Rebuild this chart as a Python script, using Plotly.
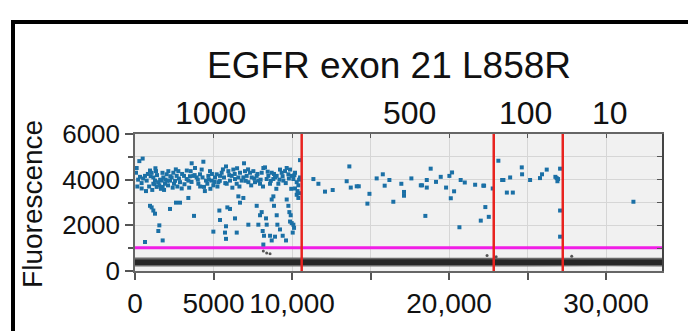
import plotly.graph_objects as go

# ---------------- data ----------------
title_text = "EGFR exon 21 L858R"
group_labels = ["1000", "500", "100", "10"]
group_centers = [4777, 17450, 24840, 30250]
well_boundaries = [10615, 22845, 27240]
threshold = 1020

x_tickvals = [0, 5000, 10000, 15000, 20000, 25000, 30000]
x_ticktext = ["0", "5000", "10,000", "", "20,000", "", "30,000"]
y_tickvals = [0, 2000, 4000, 6000]
y_ticktext = ["0", "2000", "4000", "6000"]

# positive droplets (blue)
pos_x = [
    64, 106, 276, 488, 319, 637, 743, 956, 1062, 1168, 1274, 1338, 1168, 1380, 1486, 1550, 1699, 1805, 1762, 1911,
    2017, 2123, 2230, 2336, 2442, 2484, 2654, 2760, 2866, 2973, 3121, 3291, 3397, 3546, 3609, 3716, 3822, 3928, 4034, 4140,
    4246, 4353, 4395, 4522, 4607, 4671, 4777, 4883, 4989, 5096, 5202, 5308, 5414, 5520, 5669, 5796, 5839, 5945, 6051, 6157,
    6263, 6369, 6476, 6582, 6688, 6794, 6943, 7006, 7112, 7219, 7325, 7431, 7537, 7643, 7749, 7855, 7962, 8068, 8174, 8280,
    8386, 8492, 8599, 8705, 8811, 8917, 9023, 9129, 9235, 9341, 9448, 9554, 9660, 9766, 9872, 9978, 10085, 10191, 10297, 10403,
    10509, 10509,
    150, 420, 520, 820, 900, 1100, 1250, 1400, 1600, 1650, 1850, 1950, 2100, 2250, 2400, 2550, 2600, 2700, 3000, 3150,
    3300, 3450, 3600, 3800, 4000, 4150, 4300, 4450, 4700, 4800, 4900, 5050, 5250, 5400, 5600, 5750, 6000, 6200, 6350, 6500,
    6650, 6900, 7050, 7200, 7400, 7600, 7800, 8000, 8150, 8450, 8650, 8850, 9000, 9200, 9400, 9600, 9800, 9950, 10150, 10350,
    10450, 200, 700, 1000, 1300, 1750, 2050, 2800, 3500,
    424, 955, 1061, 1168, 1274, 1550, 1486, 637, 1762, 2229, 2611, 2866, 3397, 3758, 4990, 5372, 5414, 5796, 5732, 5796,
    5881, 6051, 6369, 6478, 6582, 6688, 6900, 7218, 7750, 7856, 7962, 8068, 8131, 8216, 8344, 8387, 8705, 8811, 8853, 8600,
    8705, 8917, 9024, 9066, 9235, 9406, 9618, 9661, 9767, 9831, 9916, 9873, 9980, 10086, 10128, 10043, 10191, 10297, 10403, 10467,
    8173,
    11360, 11680, 12100, 12590, 13480, 13650, 13740, 14120, 14250, 14800, 14930, 15390, 15780, 15900, 16200, 16450, 16960, 17130, 17130, 17600,
    18200, 18280, 18490, 18580, 18580, 18830, 19170, 19470, 19810, 20020, 20110, 20190, 20320, 20660, 20740, 21000, 21660, 22020, 22180, 22230,
    22310, 22530, 22780,
    23140, 23380, 23460, 23680, 24060, 23890, 24630, 24650, 25160, 25790, 25920, 26220, 26770, 26850, 26900, 26940, 27070, 27070, 27070,
    31740,
]
pos_y = [
    4304, 4510, 4813, 4924, 4124, 4166, 3959, 4400, 4304, 4097, 3959, 4373, 3821, 3683, 3890, 3752, 3959, 4097, 3683, 3821,
    4235, 4373, 3959, 4097, 4304, 3821, 4166, 4373, 3890, 3614, 4166, 4028, 3959, 4373, 4717, 4166, 4510, 4097, 3821, 4235,
    4442, 4786, 3683, 3959, 3821, 4166, 4373, 3959, 3752, 4097, 4235, 3890, 4166, 4304, 4097, 4579, 3821, 4373, 3959, 4166,
    4442, 4028, 3821, 4097, 4304, 3959, 4717, 4373, 4166, 3890, 4304, 4097, 4373, 3890, 4166, 3959, 3821, 4304, 4510, 4538,
    4028, 4166, 3821, 4304, 4028, 4097, 4166, 3821, 4442, 4304, 3959, 4373, 4510, 4235, 4442, 4166, 4028, 4304, 3890, 3752,
    4855, 4097,
    3700, 3850, 4050, 4250, 3700, 3550, 3800, 4200, 4000, 3600, 3550, 4000, 3750, 4150, 3650, 3950, 4450, 3700, 4250, 3800,
    4400, 3650, 3900, 4200, 4000, 3700, 4100, 3500, 4000, 3600, 4250, 3900, 3700, 3950, 4450, 3850, 4200, 3650, 4250, 4500,
    3700, 4100, 3950, 4450, 3750, 4050, 4250, 4000, 3700, 4350, 3950, 4250, 3600, 4000, 4150, 3850, 4050, 3600, 4200, 3500,
    4000, 4000, 3500, 4150, 4500, 4300, 3950, 4050, 4150,
    3614, 2855, 2786, 2648, 2510, 1999, 1751, 1270, 1339, 2717, 2993, 2993, 3199, 2414, 1724, 2648, 2235, 1958, 1682, 1407,
    2786, 2717, 2304, 1682, 3269, 2993, 3199, 2028, 2855, 2028, 2441, 2579, 1751, 1544, 2304, 2028, 3131, 3269, 2855, 1544,
    1338, 1503, 2441, 2028, 1820, 1544, 1338, 3131, 2855, 2579, 2441, 2166, 2097, 2028, 1889, 1682, 3614, 3338, 3199, 3407,
    1159,
    4027, 3820, 3476, 3546, 3931, 4580, 3654, 3710, 3710, 2950, 3380, 4055, 4235, 3737, 3985, 3033, 3820, 3462, 3297, 4055,
    3752, 3752, 2413, 3985, 3654, 4482, 3903, 4124, 3654, 4165, 3186, 4316, 3490, 1916, 3985, 3876, 3778, 2206, 3737, 3737,
    2800, 2372, 3614,
    4829, 3985, 3985, 3435, 3435, 4097, 4538, 4235, 3985, 4069, 4235, 4441, 4124, 4069, 3931, 4027, 4482, 2648, 1503,
    3033,
]

# scattered droplets between the negative band and the threshold (gray)
mid_x = [8173, 8386, 8600, 22420, 23000, 27810]
mid_y = [880, 786, 760, 680, 620, 650]

# negative droplet band envelope
band_x = [0, 5000, 10000, 15000, 20000, 25000, 30000, 33560]
band_outer_lo = [200, 195, 205, 200, 195, 200, 205, 200]
band_outer_hi = [590, 600, 590, 585, 595, 590, 585, 585]
band_core_lo = [260, 255, 260, 265, 260, 255, 260, 260]
band_core_hi = [500, 510, 505, 500, 510, 505, 500, 500]

x_max = 33560
y_max = 6000

# ---------------- figure ----------------
W, H = 688, 331
L, R, T, B = 135, 26, 134, 52
pw, ph = W - L - R, H - T - B

def px_to_paper_x(px):
    return (px - L) / pw

def px_to_paper_y(py):
    return (H - B - py) / ph

FONT = "Liberation Sans, Arial, Helvetica, sans-serif"

fig = go.Figure()

# negative droplet band
fig.add_trace(go.Scatter(x=band_x, y=band_outer_lo, mode="lines", line=dict(width=0, color="#555"),
                         showlegend=False, hoverinfo="skip"))
fig.add_trace(go.Scatter(x=band_x, y=band_outer_hi, mode="lines", line=dict(width=0, color="#555"),
                         fill="tonexty", fillcolor="#6a6a6a", showlegend=False, hoverinfo="skip"))
fig.add_trace(go.Scatter(x=band_x, y=band_core_lo, mode="lines", line=dict(width=0, color="#222"),
                         showlegend=False, hoverinfo="skip"))
fig.add_trace(go.Scatter(x=band_x, y=band_core_hi, mode="lines", line=dict(width=0, color="#222"),
                         fill="tonexty", fillcolor="#262626", showlegend=False, hoverinfo="skip"))

fig.add_trace(go.Scatter(x=mid_x, y=mid_y, mode="markers",
                         marker=dict(size=3, color="#555555"), showlegend=False))

# threshold
fig.add_trace(go.Scatter(x=[0, x_max], y=[threshold, threshold], mode="lines",
                         line=dict(color="#f01ee6", width=3), showlegend=False))

# positive droplets
fig.add_trace(go.Scatter(x=pos_x, y=pos_y, mode="markers",
                         marker=dict(size=4, color="#1b70a6", symbol="square"), showlegend=False))

# well boundaries
for xb in well_boundaries:
    fig.add_trace(go.Scatter(x=[xb, xb], y=[0, y_max], mode="lines",
                             line=dict(color="#e8231f", width=2.5), showlegend=False))

# invisible trace for mirrored axes
fig.add_trace(go.Scatter(x=[0], y=[0], xaxis="x2", yaxis="y2", mode="markers",
                         marker=dict(opacity=0), showlegend=False, hoverinfo="skip"))

fig.update_layout(
    width=W, height=H,
    margin=dict(l=L, r=R, t=T, b=B),
    paper_bgcolor="white",
    plot_bgcolor="#f1f1f1",
    font=dict(family=FONT, color="#111"),
    xaxis=dict(range=[0, x_max], tickvals=x_tickvals, ticktext=x_ticktext,
               ticks="outside", ticklen=7, tickcolor="#555", tickwidth=1.5,
               showgrid=True, gridcolor="#d6d6d6", gridwidth=1,
               showline=True, linecolor="#666", linewidth=1.5, zeroline=False,
               tickfont=dict(size=28, family=FONT, color="#111")),
    yaxis=dict(range=[0, y_max], tickvals=y_tickvals, ticktext=y_ticktext,
               ticks="outside", ticklen=8, tickcolor="#555", tickwidth=1.5,
               showgrid=True, gridcolor="#d6d6d6", gridwidth=1,
               minor=dict(dtick=1000, ticks="outside", ticklen=5, tickcolor="#555",
                          showgrid=True, gridcolor="#d6d6d6", gridwidth=1),
               showline=True, linecolor="#666", linewidth=1.5, zeroline=False,
               tickfont=dict(size=26, family=FONT, color="#111")),
    xaxis2=dict(overlaying="x", side="top", matches="x", range=[0, x_max],
                tickvals=x_tickvals, ticks="inside", ticklen=4, tickcolor="#555",
                showticklabels=False, showgrid=False, showline=True, linecolor="#666",
                linewidth=1.5, zeroline=False),
    yaxis2=dict(overlaying="y", side="right", matches="y", range=[0, y_max],
                dtick=1000, ticks="inside", ticklen=5, tickcolor="#555",
                showticklabels=False, showgrid=False, showline=True, linecolor="#444",
                linewidth=2, zeroline=False),
)

annotations = []
# title
annotations.append(dict(text=title_text, xref="paper", yref="paper",
                        x=px_to_paper_x(389), y=px_to_paper_y(61), xanchor="center", yanchor="middle",
                        showarrow=False, font=dict(size=37, family=FONT, color="#111")))
# group labels
for lab, cx in zip(group_labels, group_centers):
    annotations.append(dict(text=lab, x=cx, xref="x", yref="paper", y=px_to_paper_y(112),
                            xanchor="center", yanchor="middle", showarrow=False,
                            font=dict(size=32, family=FONT, color="#111")))
# y-axis title
annotations.append(dict(text="Fluorescence", xref="paper", yref="paper",
                        x=px_to_paper_x(33), y=px_to_paper_y(208), textangle=-90,
                        xanchor="center", yanchor="middle", showarrow=False,
                        font=dict(size=28, family=FONT, color="#111")))
fig.update_layout(annotations=annotations)

# outer frame
fig.add_shape(type="rect", xref="paper", yref="paper",
              x0=px_to_paper_x(13), x1=px_to_paper_x(720),
              y0=px_to_paper_y(360), y1=px_to_paper_y(15.5),
              line=dict(color="black", width=4), layer="above")

fig.write_html("out.html")
